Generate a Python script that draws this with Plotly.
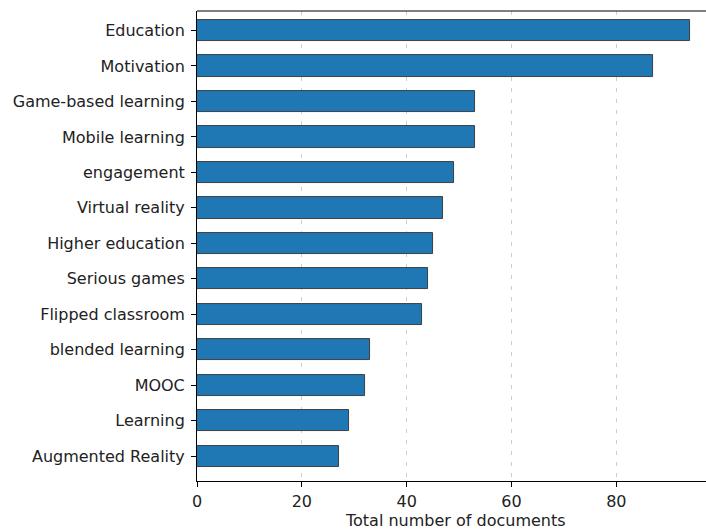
import plotly.graph_objects as go

categories = ["Education", "Motivation", "Game-based learning", "Mobile learning",
              "engagement", "Virtual reality", "Higher education", "Serious games",
              "Flipped classroom", "blended learning", "MOOC", "Learning",
              "Augmented Reality"]
values = [94, 87, 53, 53, 49, 47, 45, 44, 43, 33, 32, 29, 27]
x_ticks = [0, 20, 40, 60, 80]
x_title = "Total number of documents"

fig = go.Figure(go.Bar(
    x=values, y=categories, orientation="h", width=0.6,
    marker=dict(color="#1f77b4", line=dict(color="#333333", width=0.9)),
))

font = dict(family="DejaVu Sans", size=16, color="#222222")
fig.update_layout(
    width=706, height=529,
    margin=dict(l=197, r=0, t=11, b=48),
    plot_bgcolor="white", paper_bgcolor="white",
    font=font, showlegend=False, bargap=0,
)
fig.update_xaxes(
    range=[0, 97.1], tickvals=x_ticks, ticks="outside", ticklen=5, tickwidth=1,
    tickcolor="black", showline=True, linecolor="black", linewidth=1, mirror=False,
    showgrid=True, gridcolor="#cfcfcf", griddash="4px,7px", gridwidth=1,
    zeroline=False, ticklabelstandoff=1,
)
fig.update_yaxes(
    type="category", range=[12.7, -0.55], ticks="outside", ticklen=5, tickwidth=1,
    tickcolor="black", showline=True, linecolor="black", linewidth=1,
    showgrid=False, zeroline=False, ticklabelstandoff=3,
)
fig.add_annotation(text=x_title, xref="paper", yref="paper", x=0.5086, y=-0.085,
                   xanchor="center", yanchor="middle", showarrow=False, font=font)
# top spine
fig.add_shape(type="line", xref="paper", yref="paper", x0=0, x1=1, y0=1, y1=1,
              line=dict(color="black", width=1))
fig.write_html("out.html")
